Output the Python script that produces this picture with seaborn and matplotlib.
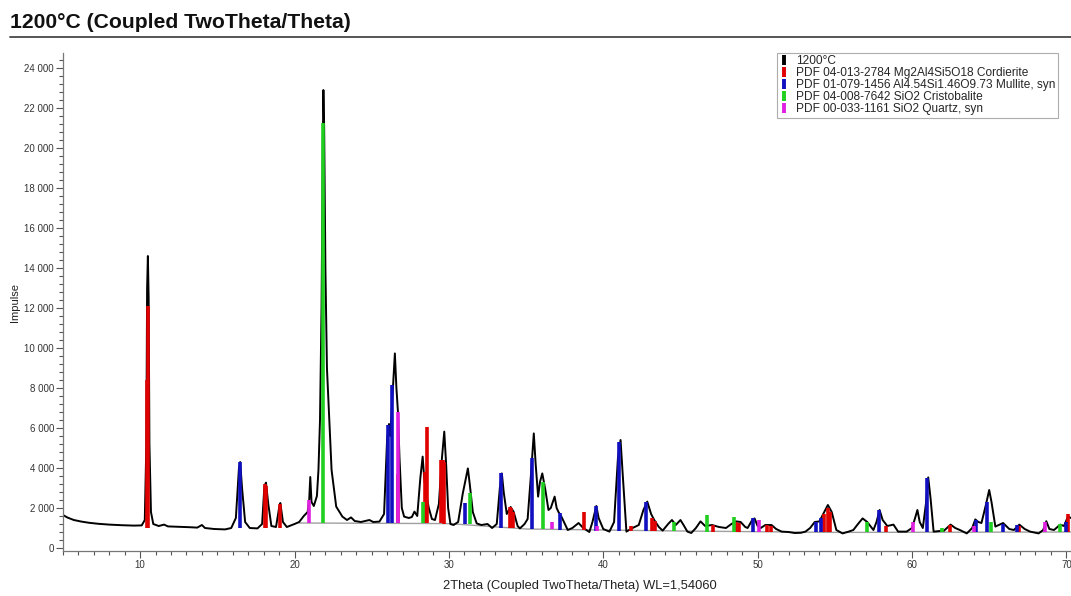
import numpy as np
import pandas as pd
import seaborn as sns
import matplotlib.pyplot as plt
from matplotlib.lines import Line2D
from matplotlib.ticker import MultipleLocator, AutoMinorLocator, FuncFormatter

two_theta = [5.0, 5.3, 5.7, 6.2, 6.7, 7.3, 8.0, 8.8, 9.6, 10.1, 10.3, 10.4, 10.45, 10.5, 10.55, 10.6,
             10.7, 10.85, 11.2, 11.55, 11.8, 12.5, 13.2, 13.7, 14.0, 14.2, 14.8, 15.5, 15.9, 16.2,
             16.4, 16.48, 16.6, 16.8, 17.1, 17.6, 17.9, 18.05, 18.15, 18.3, 18.5, 18.8, 19.0, 19.08,
             19.25, 19.5, 20.0, 20.3, 20.6, 20.85, 20.95, 21.02, 21.1, 21.25, 21.45, 21.55, 21.65,
             21.75, 21.83, 21.87, 21.92, 22.0, 22.1, 22.25, 22.4, 22.7, 23.1, 23.4, 23.66, 23.9,
             24.3, 24.85, 25.1, 25.5, 25.8, 26.0, 26.12, 26.2, 26.3, 26.5, 26.6, 26.7, 26.8, 26.95,
             27.1, 27.4, 27.6, 27.77, 27.95, 28.15, 28.3, 28.4, 28.55, 28.7, 28.9, 29.1, 29.35,
             29.55, 29.7, 29.82, 29.95, 30.1, 30.3, 30.6, 30.9, 31.1, 31.23, 31.35, 31.55, 31.8,
             32.1, 32.5, 32.8, 33.1, 33.3, 33.43, 33.55, 33.75, 34.0, 34.2, 34.45, 34.6, 34.9, 35.1,
             35.3, 35.5, 35.62, 35.78, 35.9, 36.05, 36.25, 36.45, 36.6, 36.85, 36.98, 37.1, 37.3,
             37.7, 38.0, 38.4, 38.7, 39.1, 39.3, 39.55, 39.7, 40.0, 40.4, 40.7, 40.95, 41.12, 41.25,
             41.5, 41.9, 42.3, 42.6, 42.85, 43.1, 43.3, 43.6, 43.85, 44.2, 44.45, 44.7, 45.0, 45.2,
             45.45, 45.7, 46.0, 46.3, 46.6, 47.05, 47.5, 47.95, 48.3, 48.6, 48.9, 49.2, 49.35, 49.65,
             49.8, 50.0, 50.2, 50.5, 50.9, 51.2, 51.55, 52.0, 52.4, 52.8, 53.1, 53.4, 53.7, 54.0,
             54.25, 54.55, 54.8, 55.1, 55.5, 55.9, 56.2, 56.5, 56.8, 57.1, 57.5, 57.7, 57.9, 58.1,
             58.4, 58.8, 59.1, 59.65, 60.0, 60.2, 60.35, 60.5, 60.7, 60.9, 61.05, 61.2, 61.4, 61.8,
             62.05, 62.5, 62.8, 63.1, 63.55, 63.9, 64.1, 64.3, 64.5, 64.8, 65.0, 65.15, 65.4, 65.9,
             66.3, 66.6, 66.95, 67.3, 67.65, 68.2, 68.5, 68.7, 68.9, 69.2, 69.6, 69.85, 70.1, 70.3]
counts = [1650, 1520, 1400, 1320, 1260, 1210, 1170, 1140, 1120, 1130, 1400, 5200, 13000, 14600, 12500, 5200,
          1800, 1200, 1100, 1170, 1080, 1060, 1040, 1020, 1150, 1000, 950, 930, 1000, 1500,
          4000, 4300, 3000, 1300, 1000, 980, 1200, 3100, 3270, 2200, 1100, 1050, 2000, 2250,
          1300, 1050, 1200, 1300, 1600, 1800, 2400, 3550, 2300, 2100, 2600, 3900, 6400,
          12000, 20000, 22900, 21000, 14000, 9000, 6400, 3900, 2070, 1570, 1400, 1530, 1350,
          1300, 1400, 1300, 1320, 1700, 5500, 6200, 5600, 7000, 9730, 8000, 6800, 4500, 2000,
          1570, 1500, 1550, 1820, 1600, 3500, 4570, 3500, 2600, 2000, 1450, 1400, 2200,
          4500, 5820, 4200, 2000, 1200, 1150, 1300, 2730, 3500, 3980, 3200, 1800, 1230,
          1150, 1200, 1000, 1200, 3000, 3730, 2800, 1700, 2050, 1800, 1100, 980, 1200, 1450,
          3500, 5730, 4200, 2570, 3300, 3730, 2900, 1900, 2000, 2570, 2000, 1800, 1550,
          900, 1000, 1250, 1000, 800, 1300, 2100, 1500, 950, 820, 1300, 4500, 5400, 3800,
          820, 1000, 1150, 1900, 2320, 1700, 1400, 1050, 870, 1200, 1400, 1150, 1400, 1150,
          820, 750, 1000, 1330, 1100, 1150, 1050, 1000, 1200, 1330, 1300, 1050, 1000, 1400,
          1480, 1100, 1000, 1150, 1150, 950, 820, 800, 750, 760, 820, 1000, 1300, 1330,
          1700, 2150, 1800, 900, 730, 820, 900, 1200, 1480, 1300, 900, 1300, 1900, 1400,
          1100, 1170, 820, 820, 1000, 1500, 1900, 1300, 1000, 2200, 3530, 2500, 820, 850,
          850, 1170, 1000, 900, 730, 1000, 1430, 1300, 1250, 2200, 2900, 2300, 1070, 1250,
          950, 900, 1170, 950, 820, 730, 900, 1340, 950, 900, 1170, 1100, 1570, 1500]

# background line fitted under the pattern
bg_theta = [20.3, 30.0, 35.0, 45.0, 55.0, 70.3]
bg_counts = [1250, 1220, 950, 850, 780, 800]

# reference sticks: position, top, bottom
cord_pos = [10.44, 10.52, 18.08, 18.15, 19.05, 26.68, 28.45, 28.6, 29.5, 29.6, 29.7, 33.95, 34.05, 34.15,
            38.75, 41.8, 43.15, 43.35, 47.1, 48.6, 48.8, 50.6, 50.85, 54.3, 54.55, 54.7, 58.3, 62.45,
            66.9, 70.1]
cord_top = [8400, 12100, 3200, 3100, 2200, 3700, 3800, 6050, 4400, 4400, 4300, 2050, 2000, 1800,
            1800, 1100, 1500, 1350, 1150, 1300, 1250, 1150, 1100, 1700, 2000, 1800, 1100, 1150,
            1100, 1700]
cord_bot = [1000, 1000, 1000, 1000, 1000, 1250, 1250, 1250, 1230, 1230, 1220, 1000, 1000, 1000,
            900, 850, 850, 850, 820, 820, 820, 800, 800, 780, 780, 780, 780, 790,
            800, 800]

mull_pos = [16.45, 26.08, 26.3, 31.05, 33.35, 35.4, 37.2, 39.5, 41.05, 42.8, 49.7, 53.8, 54.1, 57.85,
            60.95, 64.15, 64.85, 65.9, 66.8, 70.0]
mull_top = [4300, 6150, 8150, 2230, 3730, 4480, 1730, 2100, 5300, 2300, 1480, 1300, 1500, 1900,
            3500, 1400, 2300, 1200, 1150, 1300]
mull_bot = [1000, 1250, 1250, 1200, 1000, 950, 900, 850, 850, 850, 800, 780, 780, 780,
            790, 790, 790, 800, 800, 800]

crist_pos = [21.85, 28.35, 31.35, 36.1, 44.55, 46.75, 48.45, 57.1, 61.95, 65.1, 69.6]
crist_top = [21250, 2300, 2730, 3320, 1300, 1650, 1570, 1320, 1000, 1300, 1200]
crist_bot = [1250, 1250, 1200, 950, 850, 820, 820, 780, 790, 790, 800]

quartz_pos = [20.95, 26.72, 36.65, 39.6, 50.1, 60.05, 64.0, 68.6]
quartz_top = [2400, 6800, 1300, 1100, 1400, 1300, 1100, 1300]
quartz_bot = [1250, 1250, 950, 850, 800, 790, 790, 800]

labels = ["1200°C",
          "PDF 04-013-2784 Mg2Al4Si5O18 Cordierite",
          "PDF 01-079-1456 Al4.54Si1.46O9.73 Mullite, syn",
          "PDF 04-008-7642 SiO2 Cristobalite",
          "PDF 00-033-1161 SiO2 Quartz, syn"]
colors = ["black", "#e00000", "#1010c0", "#20d020", "#e020e0"]

sns.set_style("ticks")
plt.rcParams['font.family'] = ['Liberation Sans', 'DejaVu Sans']

fig = plt.figure(figsize=(10.71, 5.96), dpi=100)
ax = fig.add_axes([0.0588, 0.0755, 0.9412, 0.8355])

df = pd.DataFrame({'2theta': two_theta, 'counts': counts})
ax.plot(bg_theta, bg_counts, color='#a0a0a0', lw=1.0, zorder=1)
sns.lineplot(data=df, x='2theta', y='counts', color='black', lw=1.4, sort=False, ax=ax, zorder=2)

phases = [(cord_pos, cord_top, cord_bot), (mull_pos, mull_top, mull_bot),
          (crist_pos, crist_top, crist_bot), (quartz_pos, quartz_top, quartz_bot)]
for (pos, top, bot), c in zip(phases, colors[1:]):
    ax.vlines(pos, bot, top, color=c, lw=2.6, zorder=3)

ax.set_xlim(5, 70.3)
ax.set_ylim(-150, 24750)
ax.xaxis.set_major_locator(MultipleLocator(10))
ax.xaxis.set_minor_locator(MultipleLocator(1))
ax.yaxis.set_major_locator(MultipleLocator(2000))
ax.yaxis.set_minor_locator(AutoMinorLocator(5))
ax.yaxis.set_major_formatter(FuncFormatter(lambda v, p: f"{int(v):,}".replace(",", " ")))
ax.tick_params(axis='both', which='major', labelsize=7, length=5, width=0.8, colors='#555555',
               labelcolor='#333333', pad=1.5)
ax.tick_params(axis='both', which='minor', length=3, width=0.8, colors='#555555')
for s in ['top', 'right']:
    ax.spines[s].set_visible(False)
for s in ['left', 'bottom']:
    ax.spines[s].set_color('#777777')
    ax.spines[s].set_linewidth(0.9)

ax.set_xlabel('2Theta (Coupled TwoTheta/Theta) WL=1,54060', fontsize=9.3, color='#222222',
              labelpad=7, x=0.513)
ax.set_ylabel('Impulse', fontsize=8, color='#222222', labelpad=3)

handles = [Line2D([], [], color=c, marker='|', linestyle='None', markersize=7, markeredgewidth=2.8)
           for c in colors]
leg = ax.legend(handles, labels, loc='upper right', bbox_to_anchor=(0.987, 1.0), fontsize=8.6,
                frameon=True, fancybox=False, edgecolor='#999999', borderpad=0.2, labelspacing=0.0,
                handlelength=0.8, handletextpad=0.6, borderaxespad=0)
leg.get_frame().set_linewidth(0.8)

fig.text(0.0093, 0.962, '1200°C (Coupled TwoTheta/Theta)', fontsize=15.2, fontweight='bold',
         color='#111111', va='center')
fig.add_artist(Line2D([0.0093, 1.0], [0.938, 0.938], color='#555555', lw=1.4))

fig.savefig('out.png', dpi=100)
